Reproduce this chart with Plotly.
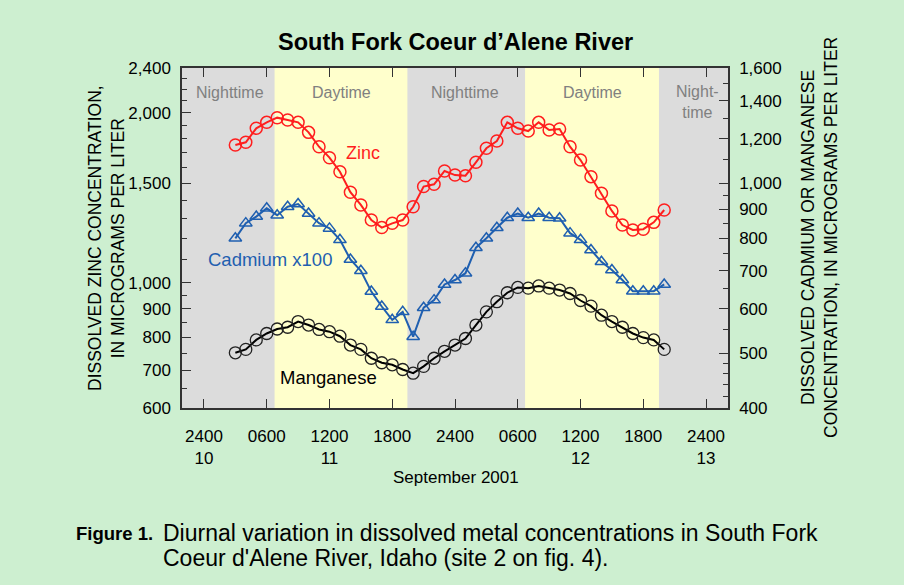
import plotly.graph_objects as go

# ---------------- data ----------------
# hours since 2400 on Sept 10 (midnight starting Sept 11), hourly samples
hours = list(range(3, 45))

zinc = [1753, 1773, 1877, 1923, 1960, 1941, 1923, 1846, 1741, 1665,
        1572, 1446, 1373, 1291, 1252, 1274, 1291, 1363, 1480, 1494,
        1577, 1551, 1547, 1634, 1730, 1782, 1923, 1877, 1856, 1923,
        1864, 1872, 1741, 1649, 1541, 1440, 1340, 1265, 1240, 1244,
        1279, 1345]

cadmium_x100 = [799, 850, 873, 903, 878, 909, 919, 884, 850, 832,
                794, 733, 700, 643, 605, 573, 592, 535, 602, 621,
                662, 674, 693, 769, 799, 834, 869, 884, 869, 884,
                869, 867, 816, 794, 762, 726, 702, 674, 644, 644,
                644, 662]

manganese = [501, 508, 528, 542, 552, 556, 569, 561, 551, 546,
             536, 517, 508, 490, 481, 477, 468, 461, 474, 490,
             504, 517, 531, 561, 592, 617, 640, 654, 652, 658,
             652, 647, 638, 620, 606, 584, 569, 556, 542, 533,
             528, 508]

x_tickvals = [0, 6, 12, 18, 24, 30, 36, 42, 48]
x_ticktext = ["2400<br>10", "0600", "1200<br>11", "1800", "2400",
              "0600", "1200<br>12", "1800", "2400<br>13"]

left_tickvals = [600, 700, 800, 900, 1000, 1500, 2000, 2400]
left_ticktext = ["600", "700", "800", "900", "1,000", "1,500", "2,000", "2,400"]
left_minor = [650, 750, 850, 950, 1100, 1200, 1300, 1400,
              1600, 1700, 1800, 1900, 2100, 2200, 2300]

right_tickvals = [400, 500, 600, 700, 800, 900, 1000, 1200, 1400, 1600]
right_ticktext = ["400", "500", "600", "700", "800", "900", "1,000",
                  "1,200", "1,400", "1,600"]
right_minor = [420, 440, 460, 480, 550, 650, 750, 850, 950, 1100, 1300, 1500]

# daytime periods (hours)
day_start = [6.75, 30.7]
day_end = [19.45, 43.5]

# ---------------- styling ----------------
BG = "#CDEFD0"
GRAY = "#DCDCDC"
YELLOW = "#FFFFCC"
RED = "#FF1E1E"
BLUE = "#1F5FB0"
AXC = "#333333"
FONT = "Liberation Sans, Arial, sans-serif"

fig = go.Figure()

fig.add_trace(go.Scatter(
    x=hours, y=zinc, mode="lines+markers", name="Zinc",
    line=dict(color=RED, width=2),
    marker=dict(symbol="circle-open", size=12, color=RED, line=dict(width=1.5, color=RED)),
    yaxis="y", showlegend=False))

fig.add_trace(go.Scatter(
    x=hours, y=cadmium_x100, mode="lines+markers", name="Cadmium x100",
    line=dict(color=BLUE, width=2),
    marker=dict(symbol="triangle-up-open", size=11, color=BLUE, line=dict(width=1.5, color=BLUE)),
    yaxis="y2", showlegend=False))

fig.add_trace(go.Scatter(
    x=hours, y=manganese, mode="lines+markers", name="Manganese",
    line=dict(color="black", width=2),
    marker=dict(symbol="circle-open", size=12, color="#222222", line=dict(width=1.3, color="#222222")),
    yaxis="y2", showlegend=False))

shapes = []
for s, e in zip(day_start, day_end):
    shapes.append(dict(type="rect", xref="x", yref="paper", x0=s, x1=e, y0=0, y1=1,
                       fillcolor=YELLOW, line=dict(width=0), layer="below"))

def pxx(px):
    return (px - 182) / 546.0

def pxy(py):
    return (408 - py) / 340.0

ann = []
def add(text, x, y, size, color="black", xanchor="center", angle=0, bold=False):
    if bold:
        text = "<b>" + text + "</b>"
    ann.append(dict(text=text, x=pxx(x), y=pxy(y), xref="paper", yref="paper",
                    showarrow=False, xanchor=xanchor, yanchor="middle",
                    textangle=angle, font=dict(family=FONT, size=size, color=color)))

add("South Fork Coeur d\u2019Alene River", 455, 42, 23.5, bold=True)
add("Nighttime", 230, 93, 16, color="#808080")
add("Daytime", 341, 93, 16, color="#808080")
add("Nighttime", 465, 93, 16, color="#808080")
add("Daytime", 592, 93, 16, color="#808080")
add("Night-<br>time", 674, 102, 16, color="#808080", xanchor="left")
add("Zinc", 363, 153, 18, color=RED)
add("Cadmium x100", 270, 259, 18.5, color=BLUE)
add("Manganese", 328, 377, 18.5, color="black")
add("September 2001", 456, 477, 17)
add("DISSOLVED ZINC CONCENTRATION,<br>IN MICROGRAMS PER LITER", 106, 238, 17.5, angle=-90)
add("DISSOLVED CADMIUM OR MANGANESE<br>CONCENTRATION, IN MICROGRAMS PER LITER", 819, 238, 17.5, angle=-90)
add("Figure 1.", 155, 533, 18.5, xanchor="right", bold=True)
add("Diurnal variation in dissolved metal concentrations in South Fork", 161, 533, 23, xanchor="left")
add("Coeur d'Alene River, Idaho (site 2 on fig. 4).", 161, 558, 23, xanchor="left")

fig.update_layout(
    width=904, height=585,
    margin=dict(l=182, r=176, t=68, b=177),
    paper_bgcolor=BG, plot_bgcolor=GRAY,
    font=dict(family=FONT, size=17, color="black"),
    shapes=shapes, annotations=ann,
    xaxis=dict(range=[-2.1, 50.1], tickmode="array", tickvals=x_tickvals, ticktext=x_ticktext,
               ticks="inside", ticklen=9, tickwidth=1.3, tickcolor=AXC,
               showline=True, linecolor=AXC, linewidth=1.5, mirror="ticks",
               showgrid=False, zeroline=False, ticklabelstandoff=12,
               tickfont=dict(size=17)),
    yaxis=dict(type="log", range=[2.778151, 3.380211], tickmode="array",
               tickvals=left_tickvals, ticktext=left_ticktext,
               ticks="inside", ticklen=9, tickwidth=1.3, tickcolor=AXC,
               minor=dict(tickvals=left_minor, ticks="inside", ticklen=5, tickwidth=1.2, tickcolor=AXC,
                          showgrid=False),
               showline=True, linecolor=AXC, linewidth=1.5, mirror=False,
               showgrid=False, zeroline=False, ticklabelstandoff=6,
               tickfont=dict(size=17)),
    yaxis2=dict(type="log", range=[2.60206, 3.20412], overlaying="y", side="right",
                tickmode="array", tickvals=right_tickvals, ticktext=right_ticktext,
                ticks="inside", ticklen=9, tickwidth=1.3, tickcolor=AXC,
                minor=dict(tickvals=right_minor, ticks="inside", ticklen=5, tickwidth=1.2, tickcolor=AXC,
                           showgrid=False),
                showline=True, linecolor=AXC, linewidth=1.5,
                showgrid=False, zeroline=False, ticklabelstandoff=6,
                tickfont=dict(size=17)),
)

fig.write_html(
    "out.html",
    config={"displayModeBar": False},
    post_script="document.body.style.margin='0';document.body.style.background='" + BG + "';",
)
